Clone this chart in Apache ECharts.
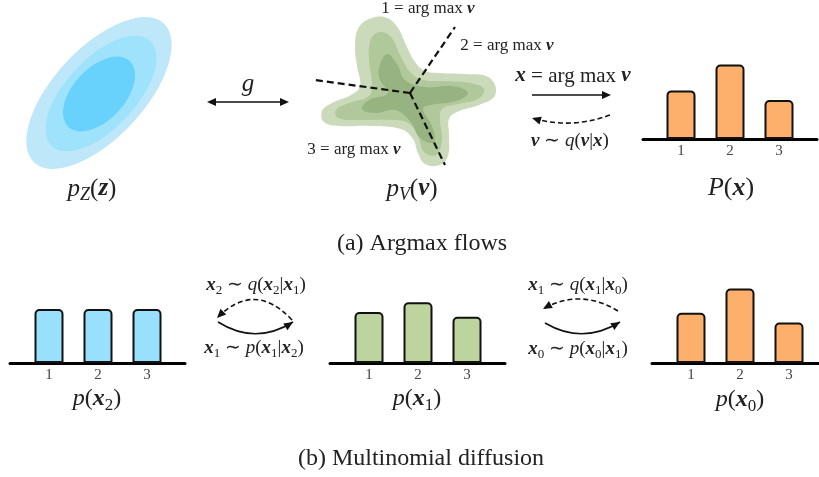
<!DOCTYPE html>
<html><head><meta charset="utf-8">
<script src="https://cdn.jsdelivr.net/npm/echarts@6/dist/echarts.min.js"></script>
<style>html,body{margin:0;padding:0;background:#fff}#c{width:819px;height:477px}</style>
</head><body><div id="c"></div>
<script>
// ---------- data ----------
const categories = ['1', '2', '3'];
const argmaxP = [0.30, 0.46, 0.24];   // P(x)  (top)
const probX2  = [0.333, 0.333, 0.333]; // p(x_2)
const probX1  = [0.315, 0.375, 0.285]; // p(x_1)
const probX0  = [0.31, 0.46, 0.25];    // p(x_0)

// ---------- layout ----------
const F = 'Liberation Serif';
const PX_PER_CAT = 49;
const panels = [
  {values: argmaxP, color: '#fdb06b', left: 643, right: 817, center: 730, base: 139},
  {values: probX2,  color: '#98e0fc', left: 10,  right: 185, center: 98,  base: 363},
  {values: probX1,  color: '#bdd49e', left: 330, right: 505, center: 418, base: 363},
  {values: probX0,  color: '#fdb06b', left: 652, right: 819, center: 740, base: 363}
];
const GH = 81, YMAX = 0.5;

const grid = [], xAxis = [], yAxis = [], series = [];
panels.forEach((p, i) => {
  grid.push({left: p.left, width: p.right - p.left, top: p.base - GH, height: GH});
  xAxis.push({
    type: 'value', gridIndex: i,
    min: 2 - (p.center - p.left) / PX_PER_CAT,
    max: 2 + (p.right - p.center) / PX_PER_CAT,
    axisLine: {show: true, onZero: false, lineStyle: {color: '#000', width: 3}},
    axisTick: {show: false}, splitLine: {show: false},
    axisLabel: {customValues: [1, 2, 3], formatter: v => categories[Math.round(v) - 1] || '',
      fontFamily: F, fontSize: 15, color: '#444', margin: 5}
  });
  yAxis.push({type: 'value', gridIndex: i, min: 0, max: YMAX, show: false});
  series.push({
    type: 'bar', xAxisIndex: i, yAxisIndex: i, silent: true, barWidth: 29, z: 1,
    data: p.values.map((v, k) => [k + 1, v]),
    itemStyle: {color: p.color, borderColor: '#111', borderWidth: 2, borderRadius: [4, 4, 0, 0]}
  });
});

// ---------- decorative graphics ----------
function mstyle(size) {
  const lh = Math.round(size * 1.25), ss = Math.round(size * 0.7);
  const base = {fontFamily: F, fill: '#222'};
  return {
    r: Object.assign({}, base, {fontSize: size, lineHeight: lh}),
    i: Object.assign({}, base, {fontSize: size, lineHeight: lh, fontStyle: 'italic'}),
    b: Object.assign({}, base, {fontSize: size, lineHeight: lh, fontStyle: 'italic', fontWeight: 'bold'}),
    s: Object.assign({}, base, {fontSize: ss, lineHeight: ss, fontStyle: 'italic', verticalAlign: 'bottom'}),
    n: Object.assign({}, base, {fontSize: ss, lineHeight: ss, verticalAlign: 'bottom'})
  };
}
function txt(x, y, text, size, color) {
  return {type: 'text', x, y, z: 10, silent: true,
    style: {text, rich: mstyle(size), align: 'center', verticalAlign: 'middle',
      fontFamily: F, fontSize: size, fill: color || '#222'}};
}
function head(x, y, dx, dy) {
  const L = Math.hypot(dx, dy), ux = dx / L, uy = dy / L, len = 9, w = 4;
  const bx = x - ux * len, by = y - uy * len;
  return {type: 'polygon', z: 10, silent: true,
    shape: {points: [[x, y], [bx - uy * w, by + ux * w], [bx + uy * w, by - ux * w]]},
    style: {fill: '#111'}};
}
function qcurve(x1, y1, cx, cy, x2, y2, dashed) {
  return [
    {type: 'bezierCurve', z: 10, silent: true,
      shape: {x1, y1, x2, y2, cpx1: cx, cpy1: cy},
      style: {stroke: '#111', lineWidth: 1.6, fill: null, lineDash: dashed ? [5, 3] : null}},
    head(x2, y2, x2 - cx, y2 - cy)
  ];
}

const ellipses = [
  {a: 95, b: 45, cx: 99, cy: 93, color: '#bee8fa'},
  {a: 72, b: 35, cx: 101, cy: 93.5, color: '#9ee2fc'},
  {a: 45, b: 26, cx: 99, cy: 94, color: '#68d2fc'}
];
const blobOuter = [[355,45],[359,27],[372,18],[387,18],[398,28],[406,45],[415,62],[425,71],[440,73],[465,74],[486,76],[495,85],[494,97],[479,105],[457,112],[449,119],[449,135],[448,156],[440,165],[425,164],[418,153],[413,139],[401,129],[370,126],[340,126],[324,122],[322,111],[332,103],[351,95],[360,86],[357,66]];
const blobMid = [[369,60],[371,39],[380,32],[391,37],[401,57],[411,73],[423,80],[442,81],[470,83],[484,89],[478,99],[453,105],[442,109],[440,120],[442,140],[436,155],[424,152],[418,136],[408,123],[393,120],[360,120],[338,118],[336,110],[349,103],[369,96],[372,84]];
const blobIn = [[379,68],[387,54],[397,64],[405,80],[425,87],[453,86],[468,93],[456,101],[431,105],[423,109],[432,126],[434,142],[421,139],[410,121],[395,110],[375,113],[362,109],[369,100],[388,93],[380,80]];

const graphic = [];
ellipses.forEach(e => graphic.push({type: 'circle', silent: true, x: e.cx, y: e.cy,
  scaleX: e.a, scaleY: e.b, rotation: 47 * Math.PI / 180, shape: {cx: 0, cy: 0, r: 1},
  style: {fill: e.color}}));
[[blobOuter, '#cbdabb'], [blobMid, '#b1c89b'], [blobIn, '#98b382']].forEach(([pts, c]) =>
  graphic.push({type: 'polygon', silent: true, shape: {points: pts, smooth: 0.4}, style: {fill: c}}));
[[315, 80], [455, 27], [445, 165]].forEach(([x, y]) =>
  graphic.push({type: 'line', silent: true, z: 5, shape: {x1: 410, y1: 93, x2: x, y2: y},
    style: {stroke: '#111', lineWidth: 2.2, lineDash: [7, 4]}}));

// g arrow
graphic.push({type: 'line', silent: true, z: 10, shape: {x1: 210, y1: 102, x2: 285, y2: 102}, style: {stroke: '#111', lineWidth: 1.6}});
graphic.push(head(207, 102, -1, 0), head(289, 102, 1, 0));
// argmax arrows
graphic.push({type: 'line', silent: true, z: 10, shape: {x1: 532, y1: 95, x2: 605, y2: 95}, style: {stroke: '#111', lineWidth: 1.6}});
graphic.push(head(611, 95, 1, 0));
graphic.push(...qcurve(610, 115, 571, 129.5, 532, 118, true));
// diffusion arrows
graphic.push(...qcurve(292, 320, 254.5, 280, 217, 318, true));
graphic.push(...qcurve(218, 322, 255.5, 345.5, 293, 322, false));
graphic.push(...qcurve(618, 311, 580.5, 288, 543, 309, true));
graphic.push(...qcurve(545, 323, 582.5, 345, 620, 322, false));

// texts
graphic.push(
  txt(92, 189, '{i|p}{s|Z}{r|(}{b|z}{r|)}', 25),
  txt(248, 84, '{i|g}', 25),
  txt(428, 9, '{r|1 = arg max }{b|v}', 17),
  txt(507, 46, '{r|2 = arg max }{b|v}', 17),
  txt(354, 150, '{r|3 = arg max }{b|v}', 17),
  txt(412, 189, '{i|p}{s|V}{r|(}{b|v}{r|)}', 25),
  txt(573, 76, '{b|x}{r| = arg max }{b|v}', 21),
  txt(570, 141, '{b|v}{r| ∼ }{i|q}{r|(}{b|v}{r||}{b|x}{r|)}', 19),
  txt(731, 188, '{i|P}{r|(}{b|x}{r|)}', 26),
  txt(256, 285, '{b|x}{n|2}{r| ∼ }{i|q}{r|(}{b|x}{n|2}{r||}{b|x}{n|1}{r|)}', 19),
  txt(254, 348, '{b|x}{n|1}{r| ∼ }{i|p}{r|(}{b|x}{n|1}{r||}{b|x}{n|2}{r|)}', 19),
  txt(578, 285, '{b|x}{n|1}{r| ∼ }{i|q}{r|(}{b|x}{n|1}{r||}{b|x}{n|0}{r|)}', 19),
  txt(578, 349, '{b|x}{n|0}{r| ∼ }{i|p}{r|(}{b|x}{n|0}{r||}{b|x}{n|1}{r|)}', 19),
  txt(97, 399, '{i|p}{r|(}{b|x}{n|2}{r|)}', 24),
  txt(417, 399, '{i|p}{r|(}{b|x}{n|1}{r|)}', 24),
  txt(740, 400, '{i|p}{r|(}{b|x}{n|0}{r|)}', 24),
  txt(422, 244, '{r|(a) Argmax flows}', 24, '#111'),
  txt(421, 459, '{r|(b) Multinomial diffusion}', 24, '#111')
);

const chart = echarts.init(document.getElementById('c'), null, {renderer: 'canvas'});
chart.setOption({animation: false, backgroundColor: '#fff', grid, xAxis, yAxis, series, graphic});
</script></body></html>
